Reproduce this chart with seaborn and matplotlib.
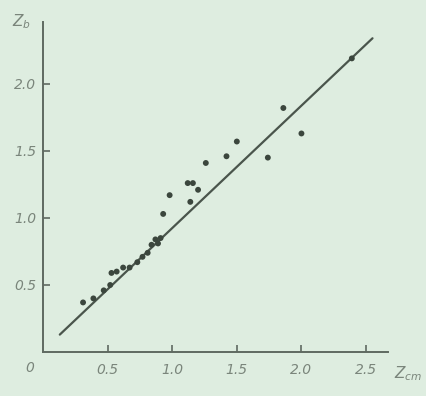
import matplotlib
matplotlib.use("Agg")
import matplotlib.pyplot as plt
import seaborn as sns
import pandas as pd

# Calculated vs. measured values
z_calc = [0.31, 0.39, 0.47, 0.52, 0.53, 0.57, 0.62, 0.67, 0.73, 0.77, 0.81,
          0.84, 0.87, 0.91, 0.89, 0.93, 0.98, 1.12, 1.16, 1.20, 1.14, 1.26,
          1.42, 1.50, 1.74, 1.86, 2.00, 2.39]
z_meas = [0.37, 0.40, 0.46, 0.50, 0.59, 0.60, 0.63, 0.63, 0.67, 0.71, 0.74,
          0.80, 0.84, 0.85, 0.81, 1.03, 1.17, 1.26, 1.26, 1.21, 1.12, 1.41,
          1.46, 1.57, 1.45, 1.82, 1.63, 2.19]

# Reference line
line_x = [0.13, 2.55]
line_y = [0.13, 2.34]

x_ticks = [0.5, 1.0, 1.5, 2.0, 2.5]
y_ticks = [0.5, 1.0, 1.5, 2.0]
x_tick_labels = ["0.5", "1.0", "1.5", "2.0", "2.5"]
y_tick_labels = ["0.5", "1.0", "1.5", "2.0"]

bg = "#deede0"
ink = "#3b463d"
text_c = "#7a857b"

sns.set_style("ticks")
fig = plt.figure(figsize=(4.27, 3.96), dpi=100, facecolor=bg)
ax = fig.add_axes([0.1007, 0.111, 0.808, 0.833])
ax.set_facecolor(bg)

pts = pd.DataFrame({"z_calc": z_calc, "z_meas": z_meas})
lin = pd.DataFrame({"x": line_x, "y": line_y})

sns.lineplot(data=lin, x="x", y="y", ax=ax, color="#4a554c", lw=1.6)
sns.scatterplot(data=pts, x="z_calc", y="z_meas", ax=ax, color=ink, s=18,
                edgecolor="none", zorder=3)

ax.set_xlim(0, 2.67)
ax.set_ylim(0, 2.46)
sns.despine(ax=ax)
for s in ("left", "bottom"):
    ax.spines[s].set_color("#5f6a61")
    ax.spines[s].set_linewidth(1.4)

ax.set_xticks(x_ticks)
ax.set_xticklabels(x_tick_labels)
ax.set_yticks(y_ticks)
ax.set_yticklabels(y_tick_labels)
ax.tick_params(direction="in", length=5, width=1.2, color="#5f6a61",
               labelcolor=text_c, labelsize=10)
ax.tick_params(axis="x", pad=8)
ax.tick_params(axis="y", pad=5)
for lab in ax.get_xticklabels() + ax.get_yticklabels():
    lab.set_fontstyle("italic")

ax.set_xlabel("")
ax.set_ylabel("")

fig.text(30 / 427, 1 - 368 / 396, "0", color=text_c, fontsize=10,
         fontstyle="italic", ha="center", va="center")
fig.text(22 / 427, 1 - 22 / 396, r"$Z_b$", color=text_c, fontsize=11,
         ha="center", va="center")
fig.text(408 / 427, 1 - 374 / 396, r"$Z_{cm}$", color=text_c, fontsize=11,
         ha="center", va="center")

fig.savefig("out.png", dpi=100, facecolor=bg)
